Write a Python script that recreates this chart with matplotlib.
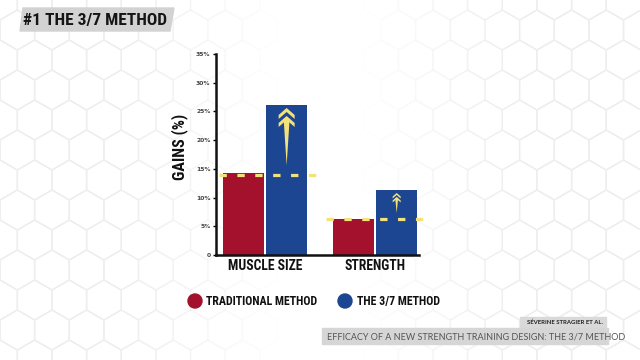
import numpy as np
import matplotlib
matplotlib.use('Agg')
import matplotlib.pyplot as plt
from matplotlib.patches import Polygon, RegularPolygon, Circle, Rectangle
from matplotlib import font_manager

# data
categories = ['MUSCLE SIZE', 'STRENGTH']
traditional = [14.3, 6.3]
method37 = [26.1, 11.3]
yticks = [0, 5, 10, 15, 20, 25, 30, 35]
ytick_labels = ['0', '5%', '10%', '15%', '20%', '25%', '30%', '35%']
series_names = ['TRADITIONAL METHOD', 'THE 3/7 METHOD']
title = '#1 THE 3/7 METHOD'
author = 'SÉVERINE STRAGIER ET AL.'
paper = 'EFFICACY OF A NEW STRENGTH TRAINING DESIGN: THE 3/7 METHOD'

RED = '#a3112c'
BLUE = '#1c4592'
YELLOW = '#f3e27a'

names = {f.name for f in font_manager.fontManager.ttflist}
cond = 'DejaVu Sans'
for n in ['Roboto Condensed', 'Liberation Sans Narrow', 'Open Sans Condensed']:
    if n in names:
        cond = n
        break
COND = dict(family=cond, fontstretch='condensed', fontweight='bold')
body = 'Lato' if 'Lato' in names else 'DejaVu Sans'

fig = plt.figure(figsize=(6.4, 3.6), dpi=100)
fig.patch.set_facecolor('white')

# background in pixel coordinates
bg = fig.add_axes([0, 0, 1, 1])
bg.set_xlim(0, 640)
bg.set_ylim(360, 0)
bg.axis('off')

r = 20
dx = np.sqrt(3) * r
for row in range(-1, 14):
    for col in range(-1, 20):
        cx = col * dx + (dx / 2 if row % 2 else 0)
        cy = row * 1.5 * r
        a = min(1, abs(cx - 320) / 220) ** 2
        if a < 0.05:
            continue
        bg.add_patch(RegularPolygon((cx, cy), 6, radius=r, fill=False,
                                    edgecolor='#eeeeee', lw=1.0, alpha=a))

# title tag
bg.add_patch(Polygon([(23, 8), (174, 8), (170, 31), (20, 31)], color='#d2d2d2'))
bg.text(95, 20, title, ha='center', va='center', fontsize=12.5, color='#151515', **COND)

# legend
bg.add_patch(Circle((195, 301), 7, color=RED))
bg.text(206, 301.5, series_names[0], ha='left', va='center', fontsize=8.6, color='#111', **COND)
bg.add_patch(Circle((345, 301), 7, color=BLUE))
bg.text(357, 301.5, series_names[1], ha='left', va='center', fontsize=8.6, color='#111', **COND)

# citation
bg.add_patch(Rectangle((520, 317), 86, 10, color='#d9d9d9'))
bg.text(603, 322.5, author, ha='right', va='center', fontsize=4.3, fontweight='bold',
        color='#222', family=body)
bg.add_patch(Rectangle((322, 328), 286, 16, color='#d6d6d6'))
bg.text(327, 336.5, paper, ha='left', va='center', fontsize=6.5, color='#555', family=body)

# chart
ax = fig.add_axes([216 / 640, 105 / 360, 203 / 640, 201 / 360])
ax.patch.set_alpha(0)
x = np.arange(len(categories))
w = 0.373
off = 0.197
ax.bar(x - off, traditional, w, color=RED, zorder=2)
ax.bar(x + off, method37, w, color=BLUE, zorder=2)
ax.set_xlim(-0.445, 1.4)
ax.set_ylim(0, 35)
for s in ['top', 'right']:
    ax.spines[s].set_visible(False)
for s in ['left', 'bottom']:
    ax.spines[s].set_linewidth(1.8)
    ax.spines[s].set_color('#111')
ax.set_yticks(yticks, ytick_labels)
ax.tick_params(axis='y', length=2.5, width=1, labelsize=4.3, labelcolor='#444', pad=1.5)
for t in ax.get_yticklabels():
    t.set_fontweight('bold')
ax.set_xticks(x, categories)
ax.tick_params(axis='x', length=0, pad=3)
for t in ax.get_xticklabels():
    t.set_fontsize(9.8)
    t.set_color('#111')
    t.set(**COND)
ax.set_ylabel('GAINS (%)', fontsize=11.5, color='#111', **COND)
ax.yaxis.set_label_coords(-0.138, 0.54)

# dashed reference lines at the traditional level
px2x = 1 / 110
px2y = 35 / 201
ax.plot([x[0] - 0.42, x[0] + 0.47], [traditional[0] - 0.3] * 2, color=YELLOW, lw=2.3,
        dashes=(2.3, 3.3), zorder=3, clip_on=False)
ax.plot([x[1] - 0.445, x[1] + 0.436], [traditional[1]] * 2, color=YELLOW, lw=2.3,
        dashes=(2.3, 3.3), zorder=3, clip_on=False)


def arrow(cx, y0, y1, s):
    hw = 8 * s * px2x
    drop = 7 * s * px2y
    th = 4 * s * px2y
    gap = 8 * s * px2y
    for k in range(2):
        top = y1 - k * gap
        ax.add_patch(Polygon([(cx, top), (cx + hw, top - drop), (cx + hw, top - drop - th),
                              (cx, top - th), (cx - hw, top - drop - th), (cx - hw, top - drop)],
                             color=YELLOW, zorder=4, lw=0))
    sw = 3 * s * px2x
    st = y1 - gap - th + 0.2
    ax.add_patch(Polygon([(cx - sw, st), (cx + sw, st), (cx, y0)], color=YELLOW, zorder=4, lw=0))


arrow(x[0] + off, traditional[0] + 1.3, method37[0] - 0.5, 1.0)
arrow(x[1] + off, traditional[1] + 1.0, method37[1] - 0.5, 0.5)

fig.savefig('out.png', dpi=100)
